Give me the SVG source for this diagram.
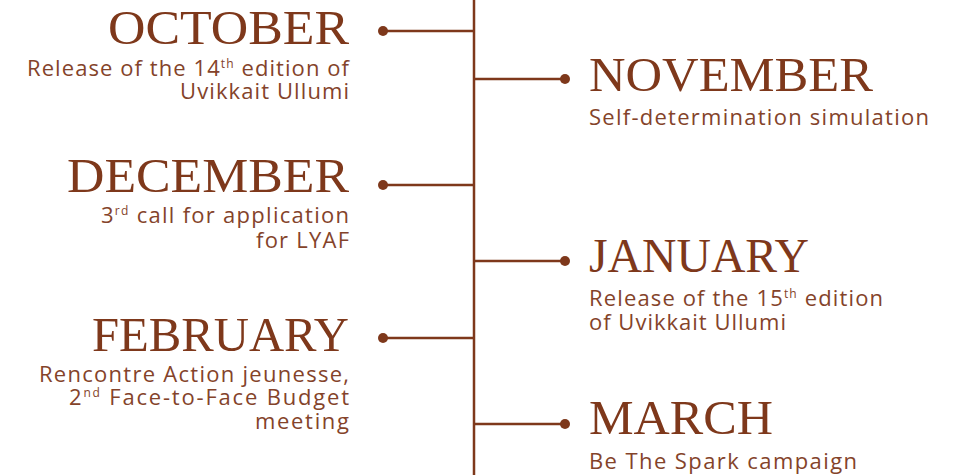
<svg xmlns="http://www.w3.org/2000/svg" width="955" height="475" viewBox="0 0 955 475">
<style>
.h{font-family:"Liberation Serif","Times New Roman",serif;font-size:48px;fill:#7e381b}
.s{font-family:"Open Sans","Liberation Sans",sans-serif;font-size:22px;fill:#84432a}
.sup{font-size:12px}
.ln{stroke:#7e381b;stroke-width:2.5;fill:none}
.dot{fill:#7e381b}
.r{text-anchor:end}
</style>
<rect width="955" height="475" fill="#ffffff"/>
<g id="connectors">
<line class="ln" x1="474" y1="0" x2="474" y2="475"/>
<line class="ln" x1="383" y1="31" x2="474" y2="31"/>
<line class="ln" x1="474" y1="79" x2="565" y2="79"/>
<line class="ln" x1="383" y1="185" x2="474" y2="185"/>
<line class="ln" x1="474" y1="261" x2="565" y2="261"/>
<line class="ln" x1="383" y1="338" x2="474" y2="338"/>
<line class="ln" x1="474" y1="424" x2="565" y2="424"/>
<circle class="dot" cx="383" cy="31" r="5"/>
<circle class="dot" cx="565" cy="79" r="5"/>
<circle class="dot" cx="383" cy="185" r="5"/>
<circle class="dot" cx="565" cy="261" r="5"/>
<circle class="dot" cx="383" cy="338" r="5"/>
<circle class="dot" cx="565" cy="424" r="5"/>
</g>
<g id="october">
<text class="h r" x="349" y="44" textLength="241" lengthAdjust="spacingAndGlyphs">OCTOBER</text>
<text class="s r" x="349" y="76" textLength="322">Release of the 14<tspan class="sup" dy="-8">th</tspan><tspan dy="8"> edition of</tspan></text>
<text class="s r" x="349" y="99" textLength="169">Uvikkait Ullumi</text>
</g>
<g id="november">
<text class="h" x="589" y="91" textLength="284" lengthAdjust="spacingAndGlyphs">NOVEMBER</text>
<text class="s" x="589" y="125" textLength="340">Self-determination simulation</text>
</g>
<g id="december">
<text class="h r" x="349" y="192" textLength="282" lengthAdjust="spacingAndGlyphs">DECEMBER</text>
<text class="s r" x="349" y="223" textLength="248">3<tspan class="sup" dy="-8">rd</tspan><tspan dy="8"> call for application</tspan></text>
<text class="s r" x="349" y="248" textLength="93">for LYAF</text>
</g>
<g id="january">
<text class="h" x="589" y="272" textLength="220" lengthAdjust="spacingAndGlyphs">JANUARY</text>
<text class="s" x="589" y="306" textLength="294">Release of the 15<tspan class="sup" dy="-8">th</tspan><tspan dy="8"> edition</tspan></text>
<text class="s" x="589" y="330" textLength="197">of Uvikkait Ullumi</text>
</g>
<g id="february">
<text class="h r" x="349" y="351" textLength="257" lengthAdjust="spacingAndGlyphs">FEBRUARY</text>
<text class="s r" x="349" y="382" textLength="310">Rencontre Action jeunesse,</text>
<text class="s r" x="349" y="405" textLength="280">2<tspan class="sup" dy="-8">nd</tspan><tspan dy="8"> Face-to-Face Budget</tspan></text>
<text class="s r" x="349" y="429" textLength="94">meeting</text>
</g>
<g id="march">
<text class="h" x="589" y="434" textLength="184" lengthAdjust="spacingAndGlyphs">MARCH</text>
<text class="s" x="589" y="469" textLength="268">Be The Spark campaign</text>
</g>
</svg>
